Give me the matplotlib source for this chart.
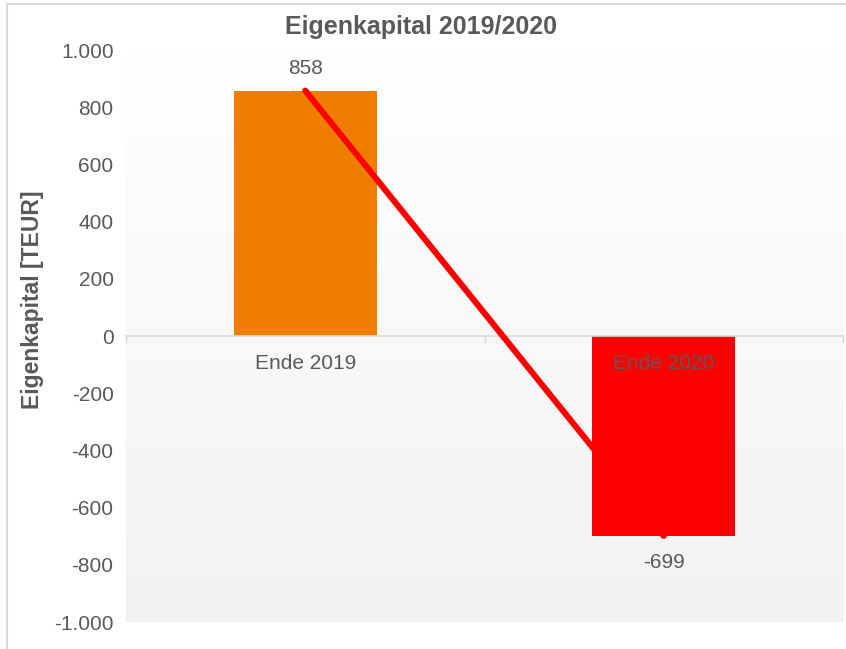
import numpy as np
import matplotlib
matplotlib.use('Agg')
import matplotlib.pyplot as plt
from matplotlib.colors import LinearSegmentedColormap
from matplotlib.lines import Line2D

plt.rcParams['font.family'] = ['Liberation Sans', 'DejaVu Sans']

categories = ['Ende 2019', 'Ende 2020']
values = [858, -699]
bar_colors = ['#EF7D00', '#FF0000']
yticks = [1000, 800, 600, 400, 200, 0, -200, -400, -600, -800, -1000]
ytick_labels = ['1.000', '800', '600', '400', '200', '0', '-200', '-400', '-600', '-800', '-1.000']

txt = '#595959'

fig = plt.figure(figsize=(8.46, 6.49), dpi=100)
ax = fig.add_axes([126/846, 27/649, 717/846, 572/649])

# background gradient of the plot area
grad = LinearSegmentedColormap.from_list('bg', ['#f2f2f2', '#ffffff'])
ax.imshow(np.linspace(0, 1, 256).reshape(-1, 1), cmap=grad, origin='lower',
          extent=[0, 1, 0, 1], transform=ax.transAxes, aspect='auto', zorder=0)

x = np.arange(len(categories))
ax.bar(x, values, width=0.4, color=bar_colors, zorder=1)
ax.plot(x, values, color='#FF0000', lw=4.4, solid_capstyle='round', zorder=3)

for xi, v in zip(x, values):
    off = 16 if v > 0 else -19
    ax.annotate(str(v), (xi, v), xytext=(0, off), textcoords='offset points',
                ha='center', va='center', fontsize=15, color=txt)

ax.set_xlim(-0.5, 1.5)
ax.set_ylim(-1000, 1000)
ax.set_yticks(yticks)
ax.set_yticklabels(ytick_labels)
ax.tick_params(axis='y', length=0, pad=9, labelsize=15, labelcolor=txt)

ax.set_xticks(x)
ax.set_xticklabels(categories)
ax.set_xticks([-0.5, 0.5, 1.5], minor=True)
ax.tick_params(axis='x', which='major', length=0, pad=13, labelsize=15, labelcolor=txt)
ax.tick_params(axis='x', which='minor', length=5, width=1, color='#d9d9d9')

for s in ['top', 'right', 'left']:
    ax.spines[s].set_visible(False)
ax.spines['bottom'].set_position(('data', 0))
ax.spines['bottom'].set_color('#d9d9d9')
ax.spines['bottom'].set_linewidth(1.2)

fig.text(421/846, 1 - 27/649, 'Eigenkapital 2019/2020', ha='center', va='center',
         fontsize=18, fontweight='bold', color=txt)
fig.text(33/846, 1 - 300/649, 'Eigenkapital [TEUR]', ha='center', va='center',
         rotation=90, fontsize=16.5, fontweight='bold', color=txt)

# chart border (top and left)
fig.add_artist(Line2D([7/846, 7/846], [0, 1 - 4/649], transform=fig.transFigure,
                      color='#d9d9d9', lw=1.5))
fig.add_artist(Line2D([7/846, 1], [1 - 4/649, 1 - 4/649], transform=fig.transFigure,
                      color='#d9d9d9', lw=1.5))

fig.savefig('out.png', dpi=100)
